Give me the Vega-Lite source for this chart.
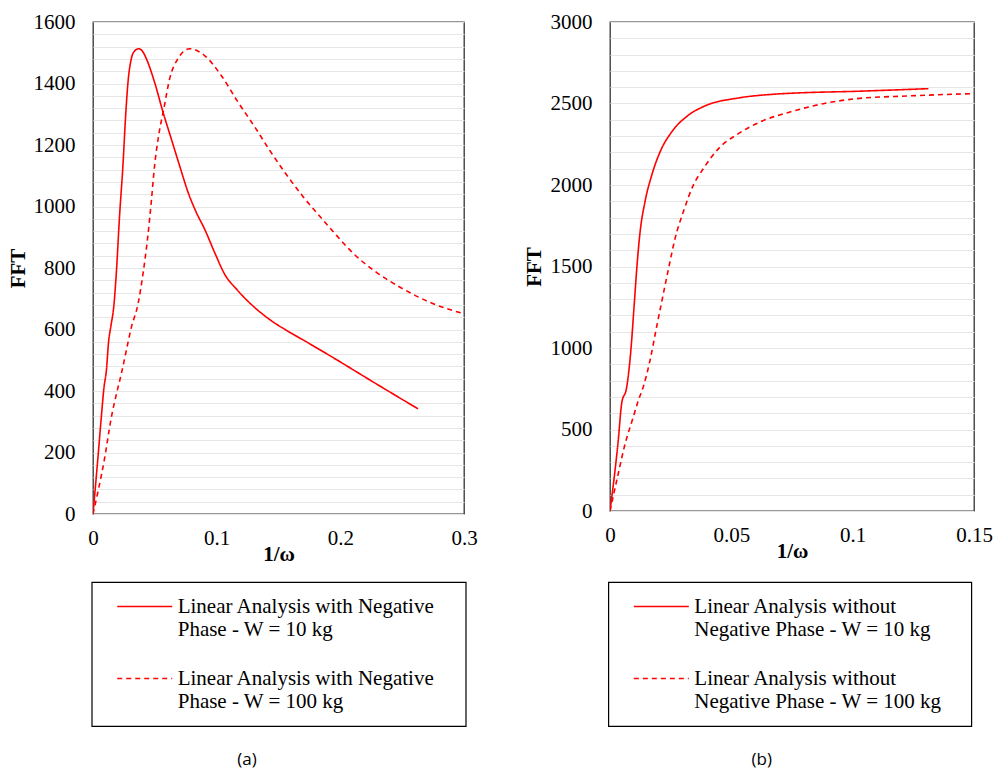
{
  "$schema": "https://vega.github.io/schema/vega-lite/v6.json",
  "background": "white",
  "padding": {"left": 6, "top": 10, "right": 5, "bottom": 5},
  "spacing": 146,
  "bounds": "flush",
  "resolve": {"scale": {"strokeDash": "independent"}, "legend": {"strokeDash": "independent"}},
  "config": {
    "font": "Liberation Serif",
    "view": {"stroke": "#333333", "strokeWidth": 1.3},
    "axis": {
      "labelFont": "Liberation Serif", "labelFontSize": 21, "labelColor": "#000000",
      "titleFont": "Liberation Serif", "titleFontSize": 21, "titleFontWeight": "bold", "titleColor": "#000000",
      "ticks": false, "domain": false, "gridColor": "#e6e6e6", "gridWidth": 1,
      "labelPadding": 18, "labelFlush": false, "labelOverlap": false
    },
    "legend": {
      "orient": "none", "title": null, "padding": 14, "strokeColor": "#000000", "strokeWidth": 1.2,
      "symbolSize": 336, "symbolOffset": 0, "symbolStrokeWidth": 1.6, "symbolStrokeColor": "#ff0000", "symbolFillColor": "transparent",
      "labelFont": "Liberation Serif", "labelFontSize": 21, "labelColor": "#000000",
      "labelOffset": 51, "labelLimit": 400, "rowPadding": 27
    }
  },
  "hconcat": [
    {
      "width": 371, "height": 492,
      "title": {"text": "(a)", "orient": "bottom", "anchor": "middle", "frame": "bounds", "font": "Open Sans", "fontSize": 17, "fontWeight": "normal", "color": "#000000", "offset": 25, "dx": 5},
      "data": {"values": [
        {"series": "Linear Analysis with Negative Phase - W = 10 kg", "x": 0, "fft": 0},
        {"series": "Linear Analysis with Negative Phase - W = 10 kg", "x": 0.004, "fft": 184},
        {"series": "Linear Analysis with Negative Phase - W = 10 kg", "x": 0.0067, "fft": 314},
        {"series": "Linear Analysis with Negative Phase - W = 10 kg", "x": 0.0089, "fft": 412},
        {"series": "Linear Analysis with Negative Phase - W = 10 kg", "x": 0.0108, "fft": 466},
        {"series": "Linear Analysis with Negative Phase - W = 10 kg", "x": 0.0127, "fft": 564},
        {"series": "Linear Analysis with Negative Phase - W = 10 kg", "x": 0.0143, "fft": 607},
        {"series": "Linear Analysis with Negative Phase - W = 10 kg", "x": 0.017, "fft": 683},
        {"series": "Linear Analysis with Negative Phase - W = 10 kg", "x": 0.0188, "fft": 780},
        {"series": "Linear Analysis with Negative Phase - W = 10 kg", "x": 0.0215, "fft": 971},
        {"series": "Linear Analysis with Negative Phase - W = 10 kg", "x": 0.0242, "fft": 1133},
        {"series": "Linear Analysis with Negative Phase - W = 10 kg", "x": 0.0264, "fft": 1296},
        {"series": "Linear Analysis with Negative Phase - W = 10 kg", "x": 0.0283, "fft": 1404},
        {"series": "Linear Analysis with Negative Phase - W = 10 kg", "x": 0.031, "fft": 1481},
        {"series": "Linear Analysis with Negative Phase - W = 10 kg", "x": 0.0335, "fft": 1505},
        {"series": "Linear Analysis with Negative Phase - W = 10 kg", "x": 0.0369, "fft": 1513},
        {"series": "Linear Analysis with Negative Phase - W = 10 kg", "x": 0.04, "fft": 1505},
        {"series": "Linear Analysis with Negative Phase - W = 10 kg", "x": 0.0431, "fft": 1481},
        {"series": "Linear Analysis with Negative Phase - W = 10 kg", "x": 0.0498, "fft": 1404},
        {"series": "Linear Analysis with Negative Phase - W = 10 kg", "x": 0.0566, "fft": 1307},
        {"series": "Linear Analysis with Negative Phase - W = 10 kg", "x": 0.0633, "fft": 1220},
        {"series": "Linear Analysis with Negative Phase - W = 10 kg", "x": 0.07, "fft": 1133},
        {"series": "Linear Analysis with Negative Phase - W = 10 kg", "x": 0.0768, "fft": 1047},
        {"series": "Linear Analysis with Negative Phase - W = 10 kg", "x": 0.0835, "fft": 981},
        {"series": "Linear Analysis with Negative Phase - W = 10 kg", "x": 0.0902, "fft": 927},
        {"series": "Linear Analysis with Negative Phase - W = 10 kg", "x": 0.0983, "fft": 851},
        {"series": "Linear Analysis with Negative Phase - W = 10 kg", "x": 0.1063, "fft": 781},
        {"series": "Linear Analysis with Negative Phase - W = 10 kg", "x": 0.117, "fft": 727},
        {"series": "Linear Analysis with Negative Phase - W = 10 kg", "x": 0.1306, "fft": 672},
        {"series": "Linear Analysis with Negative Phase - W = 10 kg", "x": 0.143, "fft": 632},
        {"series": "Linear Analysis with Negative Phase - W = 10 kg", "x": 0.1565, "fft": 597},
        {"series": "Linear Analysis with Negative Phase - W = 10 kg", "x": 0.1699, "fft": 566},
        {"series": "Linear Analysis with Negative Phase - W = 10 kg", "x": 0.1969, "fft": 502},
        {"series": "Linear Analysis with Negative Phase - W = 10 kg", "x": 0.2238, "fft": 436},
        {"series": "Linear Analysis with Negative Phase - W = 10 kg", "x": 0.2628, "fft": 342},
        {"series": "Linear Analysis with Negative Phase - W = 100 kg", "x": 0, "fft": 0},
        {"series": "Linear Analysis with Negative Phase - W = 100 kg", "x": 0.0095, "fft": 184},
        {"series": "Linear Analysis with Negative Phase - W = 100 kg", "x": 0.0148, "fft": 314},
        {"series": "Linear Analysis with Negative Phase - W = 100 kg", "x": 0.0196, "fft": 401},
        {"series": "Linear Analysis with Negative Phase - W = 100 kg", "x": 0.0229, "fft": 456},
        {"series": "Linear Analysis with Negative Phase - W = 100 kg", "x": 0.0269, "fft": 531},
        {"series": "Linear Analysis with Negative Phase - W = 100 kg", "x": 0.031, "fft": 607},
        {"series": "Linear Analysis with Negative Phase - W = 100 kg", "x": 0.0364, "fft": 683},
        {"series": "Linear Analysis with Negative Phase - W = 100 kg", "x": 0.0404, "fft": 780},
        {"series": "Linear Analysis with Negative Phase - W = 100 kg", "x": 0.0444, "fft": 906},
        {"series": "Linear Analysis with Negative Phase - W = 100 kg", "x": 0.0471, "fft": 1014},
        {"series": "Linear Analysis with Negative Phase - W = 100 kg", "x": 0.0498, "fft": 1133},
        {"series": "Linear Analysis with Negative Phase - W = 100 kg", "x": 0.0531, "fft": 1231},
        {"series": "Linear Analysis with Negative Phase - W = 100 kg", "x": 0.0573, "fft": 1318},
        {"series": "Linear Analysis with Negative Phase - W = 100 kg", "x": 0.062, "fft": 1416},
        {"series": "Linear Analysis with Negative Phase - W = 100 kg", "x": 0.0687, "fft": 1481},
        {"series": "Linear Analysis with Negative Phase - W = 100 kg", "x": 0.0781, "fft": 1513},
        {"series": "Linear Analysis with Negative Phase - W = 100 kg", "x": 0.0902, "fft": 1491},
        {"series": "Linear Analysis with Negative Phase - W = 100 kg", "x": 0.1037, "fft": 1426},
        {"series": "Linear Analysis with Negative Phase - W = 100 kg", "x": 0.117, "fft": 1341},
        {"series": "Linear Analysis with Negative Phase - W = 100 kg", "x": 0.1306, "fft": 1260},
        {"series": "Linear Analysis with Negative Phase - W = 100 kg", "x": 0.143, "fft": 1182},
        {"series": "Linear Analysis with Negative Phase - W = 100 kg", "x": 0.1565, "fft": 1103},
        {"series": "Linear Analysis with Negative Phase - W = 100 kg", "x": 0.1699, "fft": 1032},
        {"series": "Linear Analysis with Negative Phase - W = 100 kg", "x": 0.1834, "fft": 968},
        {"series": "Linear Analysis with Negative Phase - W = 100 kg", "x": 0.1969, "fft": 906},
        {"series": "Linear Analysis with Negative Phase - W = 100 kg", "x": 0.2103, "fft": 848},
        {"series": "Linear Analysis with Negative Phase - W = 100 kg", "x": 0.2292, "fft": 786},
        {"series": "Linear Analysis with Negative Phase - W = 100 kg", "x": 0.2507, "fft": 732},
        {"series": "Linear Analysis with Negative Phase - W = 100 kg", "x": 0.272, "fft": 689},
        {"series": "Linear Analysis with Negative Phase - W = 100 kg", "x": 0.3, "fft": 651}
      ]},
      "mark": {"type": "line", "color": "#ff0000", "strokeWidth": 1.6, "interpolate": "monotone", "clip": true},
      "encoding": {
        "x": {"field": "x", "type": "quantitative", "scale": {"domain": [0, 0.3], "nice": false},
          "axis": {"title": "1/ω", "values": [0, 0.1, 0.2, 0.3], "labelExpr": "toString(datum.value)", "grid": false, "labelPadding": 13, "titlePadding": -5}},
        "y": {"field": "fft", "type": "quantitative", "scale": {"domain": [0, 1600], "nice": false},
          "axis": {"title": "FFT", "format": "d", "titlePadding": 5,
            "values": [0,40,80,120,160,200,240,280,320,360,400,440,480,520,560,600,640,680,720,760,800,840,880,920,960,1000,1040,1080,1120,1160,1200,1240,1280,1320,1360,1400,1440,1480,1520,1560,1600],
            "labelExpr": "datum.value % 200 == 0 ? datum.label : ''"}},
        "strokeDash": {"field": "series", "type": "nominal",
          "sort": ["Linear Analysis with Negative Phase - W = 10 kg", "Linear Analysis with Negative Phase - W = 100 kg"],
          "scale": {"range": [[1, 0], [5, 4]]},
          "legend": {"legendX": -1.3, "legendY": 560,
            "symbolType": "M-1.087,0M0.112,0H6.11M36.24,0",
            "labelExpr": "datum.value == 'Linear Analysis with Negative Phase - W = 10 kg' ? ['Linear Analysis with Negative', 'Phase - W = 10 kg'] : ['Linear Analysis with Negative', 'Phase - W = 100 kg']"}}
      }
    },
    {
      "width": 364, "height": 489,
      "title": {"text": "(b)", "orient": "bottom", "anchor": "middle", "frame": "bounds", "font": "Open Sans", "fontSize": 17, "fontWeight": "normal", "color": "#000000", "offset": 25, "dx": 4},
      "data": {"values": [
        {"series": "Linear Analysis without Negative Phase - W = 10 kg", "x": 0, "fft": 0},
        {"series": "Linear Analysis without Negative Phase - W = 10 kg", "x": 0.0034, "fft": 434},
        {"series": "Linear Analysis without Negative Phase - W = 10 kg", "x": 0.0048, "fft": 659},
        {"series": "Linear Analysis without Negative Phase - W = 10 kg", "x": 0.0069, "fft": 761},
        {"series": "Linear Analysis without Negative Phase - W = 10 kg", "x": 0.0086, "fft": 986},
        {"series": "Linear Analysis without Negative Phase - W = 10 kg", "x": 0.01, "fft": 1272},
        {"series": "Linear Analysis without Negative Phase - W = 10 kg", "x": 0.0113, "fft": 1538},
        {"series": "Linear Analysis without Negative Phase - W = 10 kg", "x": 0.0124, "fft": 1712},
        {"series": "Linear Analysis without Negative Phase - W = 10 kg", "x": 0.0144, "fft": 1896},
        {"series": "Linear Analysis without Negative Phase - W = 10 kg", "x": 0.0172, "fft": 2060},
        {"series": "Linear Analysis without Negative Phase - W = 10 kg", "x": 0.0206, "fft": 2202},
        {"series": "Linear Analysis without Negative Phase - W = 10 kg", "x": 0.0254, "fft": 2325},
        {"series": "Linear Analysis without Negative Phase - W = 10 kg", "x": 0.0323, "fft": 2428},
        {"series": "Linear Analysis without Negative Phase - W = 10 kg", "x": 0.0391, "fft": 2485},
        {"series": "Linear Analysis without Negative Phase - W = 10 kg", "x": 0.0529, "fft": 2534},
        {"series": "Linear Analysis without Negative Phase - W = 10 kg", "x": 0.0666, "fft": 2556},
        {"series": "Linear Analysis without Negative Phase - W = 10 kg", "x": 0.0762, "fft": 2564},
        {"series": "Linear Analysis without Negative Phase - W = 10 kg", "x": 0.1017, "fft": 2575},
        {"series": "Linear Analysis without Negative Phase - W = 10 kg", "x": 0.1312, "fft": 2591},
        {"series": "Linear Analysis without Negative Phase - W = 100 kg", "x": 0, "fft": 0},
        {"series": "Linear Analysis without Negative Phase - W = 100 kg", "x": 0.0034, "fft": 229},
        {"series": "Linear Analysis without Negative Phase - W = 100 kg", "x": 0.0059, "fft": 393},
        {"series": "Linear Analysis without Negative Phase - W = 100 kg", "x": 0.0096, "fft": 577},
        {"series": "Linear Analysis without Negative Phase - W = 100 kg", "x": 0.0117, "fft": 679},
        {"series": "Linear Analysis without Negative Phase - W = 100 kg", "x": 0.0137, "fft": 761},
        {"series": "Linear Analysis without Negative Phase - W = 100 kg", "x": 0.0165, "fft": 925},
        {"series": "Linear Analysis without Negative Phase - W = 100 kg", "x": 0.0192, "fft": 1129},
        {"series": "Linear Analysis without Negative Phase - W = 100 kg", "x": 0.022, "fft": 1334},
        {"series": "Linear Analysis without Negative Phase - W = 100 kg", "x": 0.0244, "fft": 1507},
        {"series": "Linear Analysis without Negative Phase - W = 100 kg", "x": 0.0268, "fft": 1671},
        {"series": "Linear Analysis without Negative Phase - W = 100 kg", "x": 0.0302, "fft": 1835},
        {"series": "Linear Analysis without Negative Phase - W = 100 kg", "x": 0.0343, "fft": 1998},
        {"series": "Linear Analysis without Negative Phase - W = 100 kg", "x": 0.0385, "fft": 2101},
        {"series": "Linear Analysis without Negative Phase - W = 100 kg", "x": 0.0447, "fft": 2223},
        {"series": "Linear Analysis without Negative Phase - W = 100 kg", "x": 0.0529, "fft": 2315},
        {"series": "Linear Analysis without Negative Phase - W = 100 kg", "x": 0.0625, "fft": 2391},
        {"series": "Linear Analysis without Negative Phase - W = 100 kg", "x": 0.0742, "fft": 2448},
        {"series": "Linear Analysis without Negative Phase - W = 100 kg", "x": 0.0879, "fft": 2499},
        {"series": "Linear Analysis without Negative Phase - W = 100 kg", "x": 0.1017, "fft": 2530},
        {"series": "Linear Analysis without Negative Phase - W = 100 kg", "x": 0.1223, "fft": 2546},
        {"series": "Linear Analysis without Negative Phase - W = 100 kg", "x": 0.15, "fft": 2561}
      ]},
      "mark": {"type": "line", "color": "#ff0000", "strokeWidth": 1.6, "interpolate": "monotone", "clip": true},
      "encoding": {
        "x": {"field": "x", "type": "quantitative", "scale": {"domain": [0, 0.15], "nice": false},
          "axis": {"title": "1/ω", "values": [0, 0.05, 0.1, 0.15], "labelExpr": "toString(datum.value)", "grid": false, "labelPadding": 13, "titlePadding": -5}},
        "y": {"field": "fft", "type": "quantitative", "scale": {"domain": [0, 3000], "nice": false},
          "axis": {"title": "FFT", "format": "d", "titlePadding": 6,
            "values": [0,100,200,300,400,500,600,700,800,900,1000,1100,1200,1300,1400,1500,1600,1700,1800,1900,2000,2100,2200,2300,2400,2500,2600,2700,2800,2900,3000],
            "labelExpr": "datum.value % 500 == 0 ? datum.label : ''"}},
        "strokeDash": {"field": "series", "type": "nominal",
          "sort": ["Linear Analysis without Negative Phase - W = 10 kg", "Linear Analysis without Negative Phase - W = 100 kg"],
          "scale": {"range": [[1, 0], [5, 4]]},
          "legend": {"legendX": -1.7, "legendY": 560,
            "symbolType": "M-1.087,0M0.112,0H6.11M34.97,0",
            "labelExpr": "datum.value == 'Linear Analysis without Negative Phase - W = 10 kg' ? ['Linear Analysis without', 'Negative Phase - W = 10 kg'] : ['Linear Analysis without', 'Negative Phase - W = 100 kg']"}}
      }
    }
  ]
}
